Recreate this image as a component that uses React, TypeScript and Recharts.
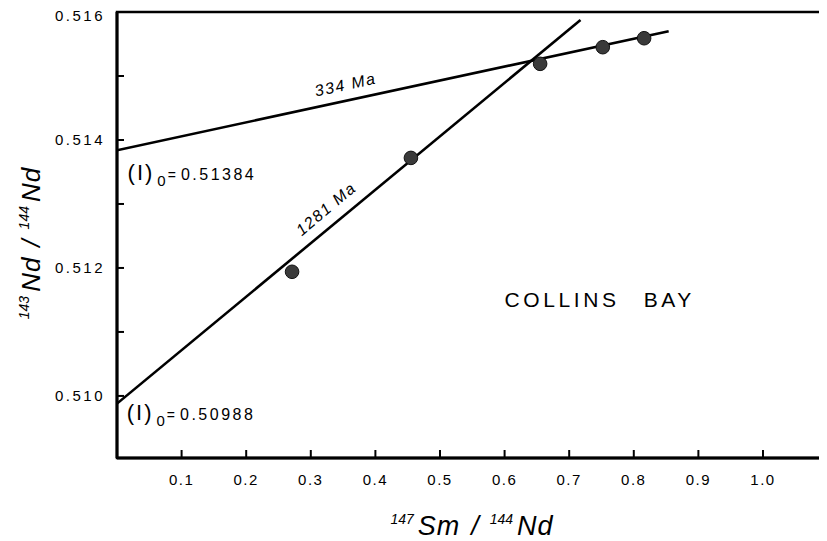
import React from "react";
import {
  ComposedChart,
  XAxis,
  YAxis,
  Line,
  Scatter,
  ReferenceDot,
  ReferenceArea,
  Label,
} from "recharts";

const FONT = '"Liberation Sans", Arial, Helvetica, sans-serif';

// Samples (147Sm/144Nd, 143Nd/144Nd)
const sampleSm = [0.271, 0.455, 0.655, 0.752, 0.816];
const sampleNd = [0.51194, 0.51372, 0.51519, 0.51545, 0.51559];

// Isochrons (end points)
const iso334Sm = [0, 0.854];
const iso334Nd = [0.51384, 0.5157];
const iso1281Sm = [0, 0.7175];
const iso1281Nd = [0.50988, 0.515875];

// Axes
const xDomain = [0, 1.096];
const yDomain = [0.50903, 0.516];
const xTicks = [0.1, 0.2, 0.3, 0.4, 0.5, 0.6, 0.7, 0.8, 0.9, 1.0];
const xTickLabels = ["0.1", "0.2", "0.3", "0.4", "0.5", "0.6", "0.7", "0.8", "0.9", "1.0"];
const yTicks = [0.51, 0.511, 0.512, 0.513, 0.514, 0.515, 0.516];
const yTickLabels = ["0.510", "", "0.512", "", "0.514", "", "0.516"];

// Annotations
const ageLabels = ["334 Ma", "1281 Ma"];
const ageLabelSm = [0.3554, 0.329];
const ageLabelNd = [0.514781, 0.512859];
const ageLabelAngle = [-12.2, -40];

const interceptLabels = ["0.51384", "0.50988"];
const interceptSm = [0.0164, 0.015];
const interceptNd = [0.513375, 0.509625];

const siteWords = ["COLLINS", "BAY"];
const siteSm = 0.6;
const siteNd = 0.511391;

const points = sampleSm.map((x, i) => ({ x, y: sampleNd[i] }));
const line334 = iso334Sm.map((x, i) => ({ x, y: iso334Nd[i] }));
const line1281 = iso1281Sm.map((x, i) => ({ x, y: iso1281Nd[i] }));

const XTick = (props: any) => {
  const { x, y, payload } = props;
  const idx = xTicks.findIndex((t) => Math.abs(t - payload.value) < 1e-9);
  return (
    <text
      x={x}
      y={y + 27}
      textAnchor="middle"
      fontFamily={FONT}
      fontSize={15}
      letterSpacing={1.5}
      fill="#000"
    >
      {idx >= 0 ? xTickLabels[idx] : ""}
    </text>
  );
};

const YTick = (props: any) => {
  const { x, y, payload } = props;
  const idx = yTicks.findIndex((t) => Math.abs(t - payload.value) < 1e-9);
  return (
    <text
      x={x - 12}
      y={Math.max(y + 5, 13)}
      textAnchor="end"
      fontFamily={FONT}
      fontSize={15}
      letterSpacing={2.5}
      fill="#000"
    >
      {idx >= 0 ? yTickLabels[idx] : ""}
    </text>
  );
};

const XTitle = (props: any) => {
  const vb = props.viewBox || {};
  const cx = vb.x + vb.width / 2 + 1;
  const by = vb.y + 77;
  return (
    <text x={cx} y={by} textAnchor="middle" fontFamily={FONT} fontStyle="italic" fill="#000">
      <tspan fontSize={14} dy={-11}>147</tspan>
      <tspan fontSize={27} dy={11} dx={4} letterSpacing={1}>Sm</tspan>
      <tspan fontSize={27} dx={11}>/</tspan>
      <tspan fontSize={14} dy={-11} dx={11}>144</tspan>
      <tspan fontSize={27} dy={11} dx={4} letterSpacing={1}>Nd</tspan>
    </text>
  );
};

const YTitle = (props: any) => {
  const vb = props.viewBox || {};
  const bx = vb.x + vb.width - 77;
  const cy = vb.y + vb.height / 2 + 8;
  return (
    <text
      x={bx}
      y={cy}
      transform={`rotate(-90, ${bx}, ${cy})`}
      textAnchor="middle"
      fontFamily={FONT}
      fontStyle="italic"
      fill="#000"
    >
      <tspan fontSize={14} dy={-11}>143</tspan>
      <tspan fontSize={26} dy={11} dx={4} letterSpacing={1}>Nd</tspan>
      <tspan fontSize={26} dx={10}>/</tspan>
      <tspan fontSize={14} dy={-11} dx={10}>144</tspan>
      <tspan fontSize={26} dy={11} dx={4} letterSpacing={1}>Nd</tspan>
    </text>
  );
};

const AgeLabel = ({ cx, cy, text, angle }: any) => (
  <text
    x={cx}
    y={cy}
    transform={`rotate(${angle}, ${cx}, ${cy})`}
    textAnchor="middle"
    fontFamily={FONT}
    fontStyle="italic"
    fontSize={16}
    letterSpacing={1.5}
    fill="#000"
  >
    {text}
  </text>
);

const InterceptLabel = ({ cx, cy, text }: any) => (
  <text x={cx} y={cy} fontFamily={FONT} fill="#000">
    <tspan fontSize={22} letterSpacing={2}>(I)</tspan>
    <tspan fontSize={15} dy={6} dx={3}>0</tspan>
    <tspan fontSize={14} dy={-6} dx={2}>=</tspan>
    <tspan fontSize={16} dx={5} letterSpacing={2.5}>{text}</tspan>
  </text>
);

const SiteLabel = ({ cx, cy }: any) => (
  <text x={cx} y={cy} fontFamily={FONT} fontSize={21} letterSpacing={3.6} fill="#000">
    <tspan>{siteWords[0]}</tspan>
    <tspan dx={24}>{siteWords[1]}</tspan>
  </text>
);

const Dot = (p: any) => (
  <circle cx={p.cx} cy={p.cy} r={6.8} fill="#3a3a3a" stroke="#111" strokeWidth={1} />
);

export default function App() {
  return (
    <ComposedChart
      width={819}
      height={533}
      margin={{ top: 4, right: 2, bottom: 0, left: 0 }}
      style={{ background: "#fff" }}
    >
      <XAxis
        type="number"
        dataKey="x"
        domain={xDomain}
        ticks={xTicks}
        interval={0}
        allowDataOverflow
        height={83}
        tickSize={-8}
        tickMargin={8}
        tickLine={{ stroke: "#000", strokeWidth: 2 }}
        tick={<XTick />}
        axisLine={{ stroke: "#000", strokeWidth: 3 }}
      >
        <Label content={<XTitle />} />
      </XAxis>
      <YAxis
        type="number"
        dataKey="y"
        domain={yDomain}
        ticks={yTicks}
        interval={0}
        allowDataOverflow
        width={109}
        tickSize={-7}
        tickMargin={7}
        tickLine={{ stroke: "#000", strokeWidth: 2 }}
        tick={<YTick />}
        axisLine={{ stroke: "#000", strokeWidth: 3 }}
      >
        <Label content={<YTitle />} />
      </YAxis>
      <ReferenceArea
        x1={xDomain[0]}
        x2={xDomain[1]}
        y1={yDomain[0]}
        y2={yDomain[1]}
        fill="none"
        fillOpacity={0}
        stroke="#000"
        strokeWidth={2.5}
        ifOverflow="visible"
      />
      <Line
        data={line334}
        dataKey="y"
        type="linear"
        dot={false}
        stroke="#000"
        strokeWidth={2.6}
        isAnimationActive={false}
      />
      <Line
        data={line1281}
        dataKey="y"
        type="linear"
        dot={false}
        stroke="#000"
        strokeWidth={2.6}
        isAnimationActive={false}
      />
      <Scatter data={points} dataKey="y" shape={<Dot />} isAnimationActive={false} />
      {ageLabels.map((t, i) => (
        <ReferenceDot
          key={t}
          x={ageLabelSm[i]}
          y={ageLabelNd[i]}
          r={0}
          ifOverflow="visible"
          shape={(p: any) => <AgeLabel cx={p.cx} cy={p.cy} text={t} angle={ageLabelAngle[i]} />}
        />
      ))}
      {interceptLabels.map((t, i) => (
        <ReferenceDot
          key={t}
          x={interceptSm[i]}
          y={interceptNd[i]}
          r={0}
          ifOverflow="visible"
          shape={(p: any) => <InterceptLabel cx={p.cx} cy={p.cy} text={t} />}
        />
      ))}
      <ReferenceDot
        x={siteSm}
        y={siteNd}
        r={0}
        ifOverflow="visible"
        shape={(p: any) => <SiteLabel cx={p.cx} cy={p.cy} />}
      />
    </ComposedChart>
  );
}
